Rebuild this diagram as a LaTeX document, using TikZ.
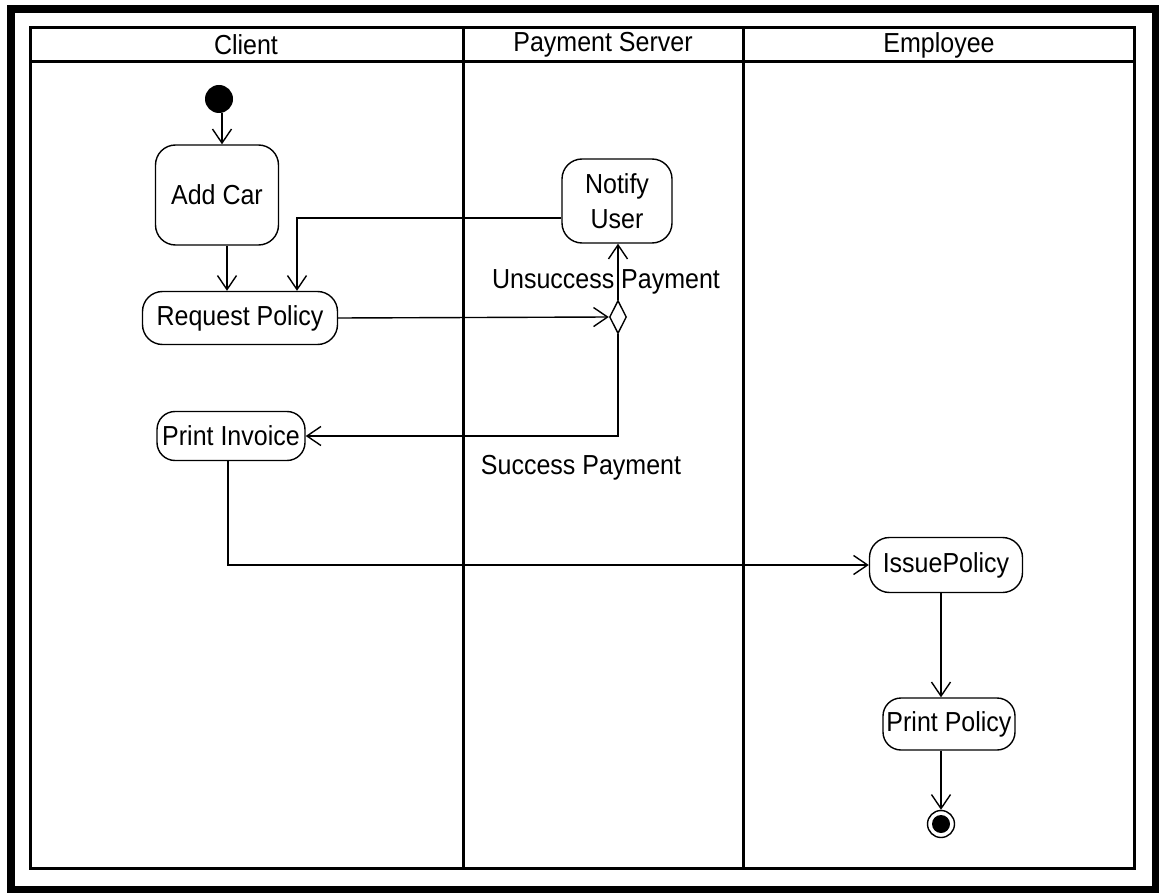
\documentclass[tikz,border=0pt]{standalone}
\usepackage{fontspec}
\setmainfont{Liberation Sans}
\usetikzlibrary{arrows.meta,shapes.geometric}

\newcommand{\lbl}[1]{\scalebox{1}[1.1]{#1}}

\tikzset{
  lane/.style={line width=3pt, draw=black},
  activity/.style={draw=black, line width=1.4pt, rounded corners=20pt, fill=white,
    inner sep=0pt, font=\fontsize{25}{29}\selectfont, align=center},
  flow/.style={line width=1.4pt, -{Straight Barb[length=14pt,width=19pt,line width=1.4pt]}},
  guard/.style={font=\fontsize{25}{29}\selectfont, inner sep=0pt},
  lanetitle/.style={font=\fontsize{25}{29}\selectfont, inner sep=0pt}
}

\begin{document}
\begin{tikzpicture}[x=1pt, y=-1pt]
  \useasboundingbox (0,0) rectangle (1159,893);
  \fill[white] (0,0) rectangle (1159,893);

  % outer frame
  \draw[line width=8pt] (11,9.5) rectangle (1155.5,889.5);

  % swimlanes
  \draw[lane] (30,28) rectangle (1134,868);
  \draw[lane] (30,62) -- (1134,62);
  \draw[lane] (463,28) -- (463,868);
  \draw[lane] (743,28) -- (743,868);
  \node[lanetitle] (tclient) at (246,45) {\lbl{Client}};
  \node[lanetitle] (tpay) at (603,45) {\lbl{Payment Server}};
  \node[lanetitle] (temp) at (939,45) {\lbl{Employee}};

  % activities
  \node[circle, fill=black, minimum size=28pt, inner sep=0pt] (start) at (219,99) {};
  \node[activity, minimum width=123pt, minimum height=100pt] (addcar) at (217,195) {\lbl{Add Car}};
  \node[activity, minimum width=195pt, minimum height=53pt] (request) at (240,318) {\lbl{Request Policy}};
  \node[activity, minimum width=110pt, minimum height=84pt] (notify) at (617,201) {\lbl{Notify}\\[6pt]\lbl{User}};
  \node[diamond, draw=black, line width=1.4pt, fill=white, minimum width=17pt, minimum height=33pt,
        inner sep=0pt, shape aspect=0.5] (dec) at (618,317) {};
  \node[activity, minimum width=148pt, minimum height=49pt, rounded corners=18pt] (invoice) at (231,436) {\lbl{Print Invoice}};
  \node[activity, minimum width=153pt, minimum height=55pt] (issue) at (946,565) {\lbl{IssuePolicy}};
  \node[activity, minimum width=132pt, minimum height=52pt, rounded corners=18pt] (printpol) at (949,724) {\lbl{Print Policy}};
  \node[circle, draw=black, line width=1.4pt, minimum size=27pt, inner sep=0pt] (final) at (941,824) {};
  \fill[black] (final.center) circle (9pt);

  % guard labels
  \node[guard] (gfail) at (606,282) {\lbl{Unsuccess Payment}};
  \node[guard] (gok) at (581,468) {\lbl{Success Payment}};

  % control flows
  \draw[flow] (start.south -| 222,0) -- (addcar.north -| 222,0);
  \draw[flow] ([xshift=10pt]addcar.south) -- (request.north -| 227,0);
  \draw[flow] (request.east) -- (dec.west);
  \draw[flow] (dec.north) -- (notify.south -| dec.north);
  \draw[flow] ([yshift=-17pt]notify.west) -| (request.north -| 297,0);
  \draw[flow] (dec.south) |- (invoice.east);
  \draw[flow] ([xshift=-3pt]invoice.south) |- (issue.west);
  \draw[flow] (issue.south -| final.north) -- (printpol.north -| final.north);
  \draw[flow] (printpol.south -| final.north) -- (final.north);
\end{tikzpicture}
\end{document}
